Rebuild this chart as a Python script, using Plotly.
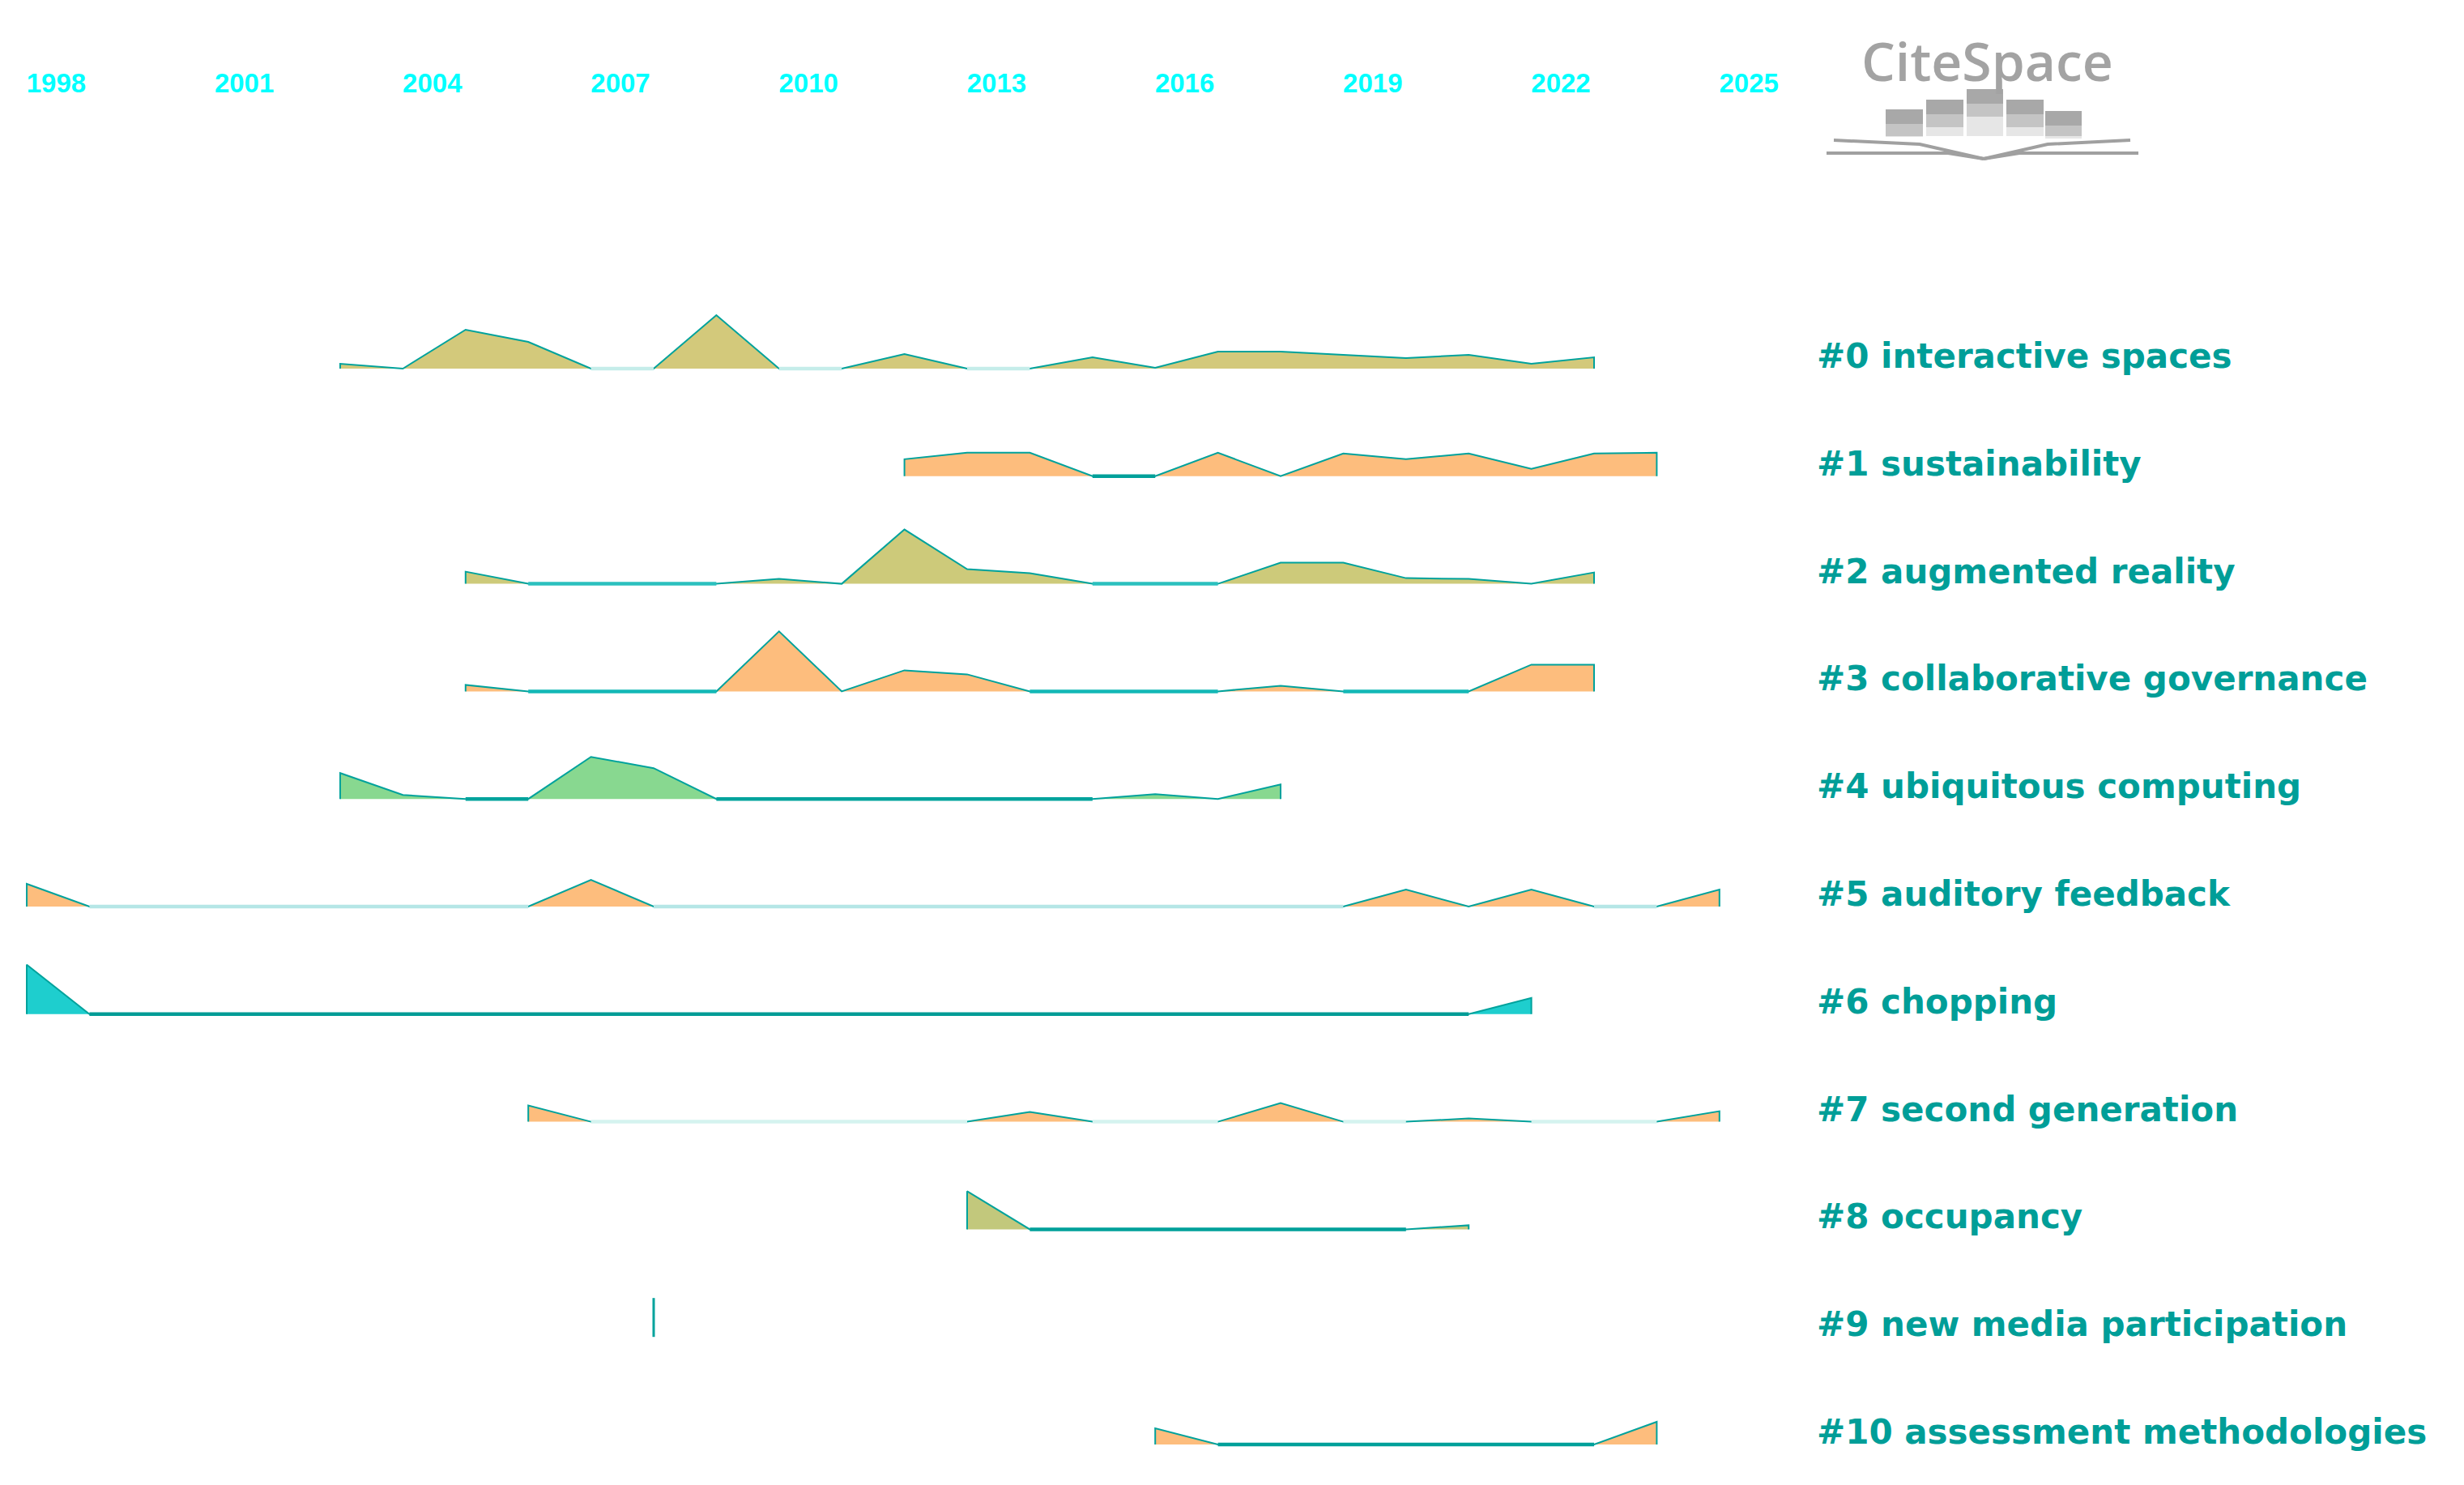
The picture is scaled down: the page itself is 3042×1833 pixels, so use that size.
import plotly.graph_objects as go

# cluster timeline data (arbitrary units)
labels = [
    "#0 interactive spaces",
    "#1 sustainability",
    "#2 augmented reality",
    "#3 collaborative governance",
    "#4 ubiquitous computing",
    "#5 auditory feedback",
    "#6 chopping",
    "#7 second generation",
    "#8 occupancy",
    "#9 new media participation",
    "#10 assessment methodologies",
]
start_years = [2003, 2012, 2005, 2005, 2003, 1998, 1998, 2006, 2013, 2008, 2016]

c0 = [6, 0, 48, 33, 0, 0, 66, 0, 0, 18, 0, 0, 14, 1, 21, 21, 17, 13, 17, 6, 14]
c1 = [21, 29, 29, 0, 0, 29, 0, 28, 21, 28, 9, 28, 29]
c2 = [15, 0, 0, 0, 0, 6, 0, 67, 18, 13, 0, 0, 0, 26, 26, 7, 6, 0, 14]
c3 = [8, 0, 0, 0, 0, 74, 0, 26, 21, 0, 0, 0, 0, 7, 0, 0, 0, 33, 33]
c4 = [32, 5, 0, 0, 52, 38, 0, 0, 0, 0, 0, 0, 0, 6, 0, 18]
c5 = [28, 0, 0, 0, 0, 0, 0, 0, 0, 33, 0, 0, 0, 0, 0, 0, 0, 0, 0, 0, 0, 0,
      21, 0, 21, 0, 0, 21]
c6 = [61, 0, 0, 0, 0, 0, 0, 0, 0, 0, 0, 0, 0, 0, 0, 0, 0, 0, 0, 0, 0, 0, 0, 0, 20]
c7 = [20, 0, 0, 0, 0, 0, 0, 0, 12, 0, 0, 0, 23, 0, 0, 4, 0, 0, 0, 13]
c8 = [47, 0, 0, 0, 0, 0, 0, 0, 5]
c9 = [48]
c10 = [20, 0, 0, 0, 0, 0, 0, 0, 28]
series = [c0, c1, c2, c3, c4, c5, c6, c7, c8, c9, c10]

year_ticks = [1998, 2001, 2004, 2007, 2010, 2013, 2016, 2019, 2022, 2025]

# styling
KHAKI, PEACH, GREEN, CYAN = "#D3C97B", "#FDBD7D", "#88D890", "#1ECECE"
fills = [KHAKI, PEACH, "#CDCA7A", PEACH, GREEN, PEACH, CYAN, PEACH, "#C2C87C", PEACH, PEACH]
base_colors = ["#C5EDEA", "#00A09A", "#2BC0BE", "#12B8B6", "#00A39C", "#B5E6E6",
               "#009C96", "#D5F3EF", "#00A09A", "#00A09A", "#00A09A"]
TEAL = "#00A29C"
LABEL_COLOR = "#009E98"

# page body has an 8px margin, so the figure is a bit smaller and shifted
OFF = 8
W, H = 3042 - 2 * OFF, 1833 - 2 * OFF
TOP = 114
ROW0_Y = 455 - OFF
ROW_GAP = 132.8
PX_PER_YEAR = 77.4
X0 = 1998 - (33 - OFF) / PX_PER_YEAR
X1 = X0 + W / PX_PER_YEAR
LABEL_X = 2026.53

fig = go.Figure()

for i, vals in enumerate(series):
    base = -(ROW0_Y + i * ROW_GAP)
    yrs = list(range(start_years[i], start_years[i] + len(vals)))
    top = [base + v for v in vals]
    if len(vals) == 1:
        fig.add_trace(go.Scatter(x=[yrs[0], yrs[0]], y=[base, top[0]], mode="lines",
                                 line=dict(color=TEAL, width=3), hoverinfo="skip"))
    else:
        xs = [yrs[0]] + yrs + [yrs[-1]]
        fig.add_trace(go.Scatter(x=xs, y=[base] * len(xs), mode="lines",
                                 line=dict(width=0), hoverinfo="skip"))
        fig.add_trace(go.Scatter(x=xs, y=[base] + top + [base], mode="lines",
                                 fill="tonexty", fillcolor=fills[i],
                                 line=dict(color=TEAL, width=2)))
        fig.add_trace(go.Scatter(x=yrs, y=[base if v == 0 else None for v in vals],
                                 mode="lines", connectgaps=False,
                                 line=dict(color=base_colors[i], width=4.5),
                                 hoverinfo="skip"))
    fig.add_annotation(x=LABEL_X, y=base, text=labels[i], showarrow=False,
                       xanchor="left", yanchor="bottom", yshift=-11,
                       font=dict(family="DejaVu Sans", size=42, color=LABEL_COLOR,
                                 weight="bold"))


def py(p):
    return (H - (p - OFF)) / (H - TOP)


def px(p):
    return (p - OFF) / W


# CiteSpace logo
fig.add_annotation(xref="paper", yref="paper", x=px(2453), y=py(74), text="CiteSpace",
                   showarrow=False, xanchor="center", yanchor="middle",
                   font=dict(family="Open Sans", size=66, color="#A3A3A3", weight=600))
bars = [(2328, 2374, 135), (2378, 2424, 123), (2428, 2473, 110), (2477, 2523, 123),
        (2525, 2570, 137)]
for x0, x1, yt in bars:
    fig.add_shape(type="rect", xref="paper", yref="paper", x0=px(x0), x1=px(x1),
                  y0=py(yt + 18), y1=py(yt), fillcolor="#A8A8A8", line=dict(width=0))
    fig.add_shape(type="rect", xref="paper", yref="paper", x0=px(x0), x1=px(x1),
                  y0=py(yt + 34), y1=py(yt + 18), fillcolor="#C4C4C4", line=dict(width=0))
    fig.add_shape(type="rect", xref="paper", yref="paper", x0=px(x0), x1=px(x1),
                  y0=py(168), y1=py(yt + 34), fillcolor="#E6E6E6", line=dict(width=0))
book = [
    [(2264, 173), (2370, 178), (2449, 196)],
    [(2630, 173), (2528, 178), (2449, 196)],
    [(2255, 189), (2405, 189), (2449, 196)],
    [(2640, 189), (2493, 189), (2449, 196)],
]
for pts in book:
    path = "M " + " L ".join(f"{px(a):.5f},{py(b):.5f}" for a, b in pts)
    fig.add_shape(type="path", xref="paper", yref="paper", path=path,
                  line=dict(color="#A0A0A0", width=4))

fig.update_layout(
    width=W, height=H,
    margin=dict(l=0, r=0, t=TOP, b=0),
    plot_bgcolor="white", paper_bgcolor="white",
    showlegend=False,
    xaxis=dict(range=[X0, X1], side="top", tickvals=[y + 0.47 for y in year_ticks],
               ticktext=[str(y) for y in year_ticks], showgrid=False, zeroline=False,
               showline=False, ticks="",
               tickfont=dict(family="Liberation Sans", size=33, color="#00FFFF",
                             weight="bold")),
    yaxis=dict(range=[-H, -TOP], visible=False, showgrid=False, zeroline=False),
)

fig.write_html("out.html")
